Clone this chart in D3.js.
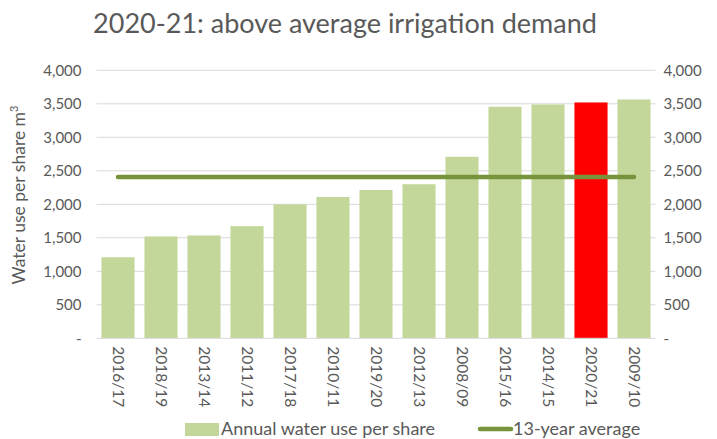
<!DOCTYPE html>
<html>
<head>
<meta charset="utf-8">
<script src="https://cdn.jsdelivr.net/npm/d3@7"></script>
<style>
  body { margin: 0; background: #fff; }
  text { font-family: Lato, "Open Sans", sans-serif; fill: #595959; }
</style>
</head>
<body>
<svg id="chart" width="717" height="439"></svg>
<script>
const seasons = ["2016/17", "2018/19", "2013/14", "2011/12", "2017/18", "2010/11", "2019/20",
  "2012/13", "2008/09", "2015/16", "2014/15", "2020/21", "2009/10"];
const waterUse = [1210, 1520, 1535, 1674, 2000, 2109, 2214, 2300, 2709, 3456, 3490, 3520, 3565];
const average = [2408, 2408, 2408, 2408, 2408, 2408, 2408, 2408, 2408, 2408, 2408, 2408, 2408];
const yTicks = [0, 500, 1000, 1500, 2000, 2500, 3000, 3500, 4000];
const highlight = "2020/21";

const svg = d3.select("#chart");
const plotL = 96.5, plotR = 655.5, plotT = 70.3, plotB = 338.3;

const x = d3.scaleBand().domain(seasons).range([plotL, plotR])
  .paddingInner(0.23).paddingOuter(0.115);
const y = d3.scaleLinear().domain([0, 4000]).range([plotB, plotT]);

const fmt = d => d === 0 ? "-" : d3.format(",")(d);

// title
svg.append("text")
  .attr("x", 345).attr("y", 33)
  .attr("text-anchor", "middle")
  .attr("font-size", "27px")
  .text("2020-21: above average irrigation demand");

// gridlines
svg.append("g").selectAll("line").data(yTicks.slice(1)).enter()
  .append("line")
  .attr("x1", plotL).attr("x2", plotR)
  .attr("y1", d => y(d)).attr("y2", d => y(d))
  .attr("stroke", "#d9d9d9").attr("stroke-width", 1);

// left and right tick labels
const yl = svg.append("g").attr("transform", `translate(${plotL - 12},0)`)
  .call(d3.axisLeft(y).tickValues(yTicks).tickFormat(fmt).tickSize(0));
const yr = svg.append("g").attr("transform", `translate(${plotR + 5},0)`)
  .call(d3.axisRight(y).tickValues(yTicks).tickFormat(fmt).tickSize(0));
[yl, yr].forEach(g => {
  g.select(".domain").remove();
  g.selectAll("text").attr("font-size", "15px").attr("font-family", null).attr("fill", "#595959");
});

// bars
svg.append("g").selectAll("rect").data(seasons).enter()
  .append("rect")
  .attr("x", d => x(d))
  .attr("width", x.bandwidth())
  .attr("y", (d, i) => y(waterUse[i]))
  .attr("height", (d, i) => plotB - y(waterUse[i]))
  .attr("fill", d => d === highlight ? "#ff0000" : "#c4d79b");

// baseline
svg.append("line")
  .attr("x1", plotL).attr("x2", plotR)
  .attr("y1", plotB).attr("y2", plotB)
  .attr("stroke", "#d9d9d9");

// average line
const line = d3.line()
  .x((d, i) => x(seasons[i]) + x.bandwidth() / 2)
  .y(d => y(d));
svg.append("path")
  .datum(average)
  .attr("d", line)
  .attr("fill", "none")
  .attr("stroke", "#77933c")
  .attr("stroke-width", 4.5)
  .attr("stroke-linecap", "round");

// x labels, rotated
const xa = svg.append("g").attr("transform", `translate(0,${plotB})`)
  .call(d3.axisBottom(x).tickSize(0));
xa.select(".domain").remove();
xa.selectAll("text")
  .attr("font-size", "15.5px").attr("font-family", null).attr("fill", "#595959")
  .attr("transform", "rotate(90)")
  .attr("text-anchor", "start")
  .attr("x", 8).attr("y", 0).attr("dy", "0.35em");

// y axis title
const yt = svg.append("text")
  .attr("transform", "translate(25,195) rotate(-90)")
  .attr("text-anchor", "middle")
  .attr("font-size", "17.5px");
yt.append("tspan").text("Water use per share  m");
yt.append("tspan").attr("dy", -7).attr("font-size", "11px").text("3");

// legend
const lg = svg.append("g");
lg.append("rect").attr("x", 185).attr("y", 423).attr("width", 34).attr("height", 13).attr("fill", "#c4d79b");
lg.append("text").attr("x", 221).attr("y", 435).attr("font-size", "18px").text("Annual water use per share");
lg.append("line").attr("x1", 480).attr("x2", 511).attr("y1", 429).attr("y2", 429)
  .attr("stroke", "#77933c").attr("stroke-width", 4.5).attr("stroke-linecap", "round");
lg.append("text").attr("x", 513).attr("y", 435).attr("font-size", "18px").text("13-year average");
</script>
</body>
</html>
